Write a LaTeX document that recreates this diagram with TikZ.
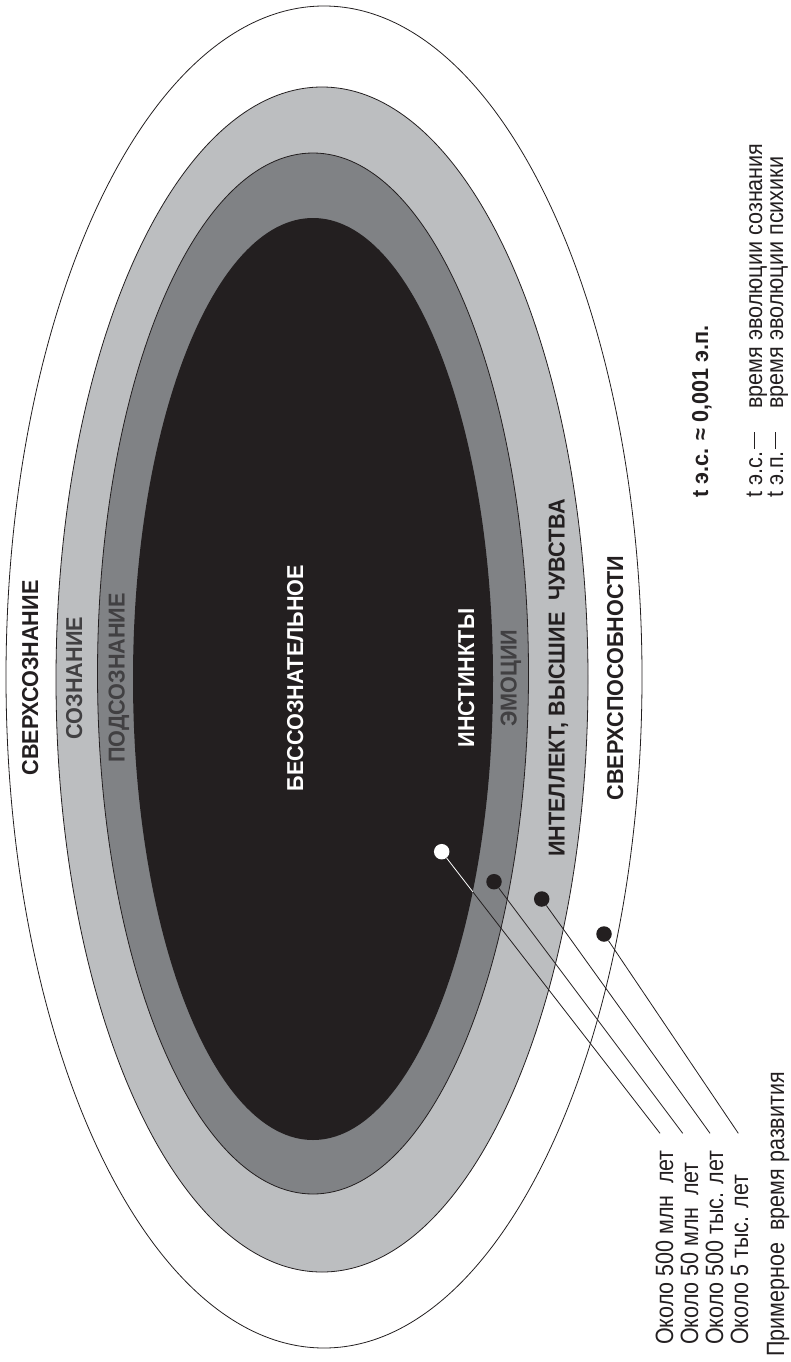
\documentclass[tikz,border=0pt]{standalone}
\usepackage{fontspec}
\setmainfont{Liberation Sans}
\newfontfamily\lblfont[FakeStretch=0.94]{Liberation Sans}
\newfontfamily\txtfont[FakeStretch=0.86]{Liberation Sans}
\newfontfamily\legfont[FakeStretch=0.9]{Liberation Sans}
\definecolor{lgray}{HTML}{BCBEC0}
\definecolor{mgray}{HTML}{808285}
\definecolor{kblack}{HTML}{231F20}
\definecolor{tgray}{HTML}{414042}
\tikzset{
  ring/.style={draw=kblack, line width=0.8pt},
  conn/.style={draw=kblack, line width=0.8pt},
  wdot/.style={circle, fill=white, inner sep=0pt, minimum size=15.5pt},
  bdot/.style={circle, fill=kblack, inner sep=0pt, minimum size=15.5pt},
  lbl/.style={rotate=90, font=\lblfont\bfseries\fontsize{23}{23}\selectfont, text depth=0pt, inner sep=0pt, anchor=center},
  txt/.style={rotate=90, font=\txtfont\fontsize{25}{25}\selectfont, inner sep=0pt, anchor=base west, text=kblack},
  leg/.style={rotate=90, font=\legfont\fontsize{24}{24}\selectfont, inner sep=0pt, anchor=base west, text=kblack},
  ttl/.style={rotate=90, font=\lblfont\bfseries\fontsize{23}{23}\selectfont, inner sep=0pt, anchor=base west, text=kblack}
}
\begin{document}
\begin{tikzpicture}[x=1pt,y=-1pt]
\useasboundingbox (0,0) rectangle (790,1362);
% nested regions
\draw[ring, fill=white] (324,677) ellipse [x radius=318pt, y radius=671pt];
\draw[ring, fill=lgray] (322,679.5) ellipse [x radius=266pt, y radius=592.5pt];
\draw[ring, fill=mgray] (313,673.5) ellipse [x radius=215.5pt, y radius=520.5pt];
\fill[kblack] (313,679) ellipse [x radius=180pt, y radius=461pt];
% labels
\node[lbl, text=kblack] (lsc) at (30,678) {СВЕРХСОЗНАНИЕ};
\node[lbl, text=tgray] (lc) at (74,678) {СОЗНАНИЕ};
\node[lbl, text=tgray] (lpc) at (116.5,678) {ПОДСОЗНАНИЕ};
\node[lbl, text=white] (lbc) at (295,678) {БЕССОЗНАТЕЛЬНОЕ};
\node[lbl, text=white] (lin) at (466,678) {ИНСТИНКТЫ};
\node[lbl, text=tgray] (lem) at (508.5,678) {ЭМОЦИИ};
\node[lbl, text=kblack] (lint) at (556.5,678) {ИНТЕЛЛЕКТ, ВЫСШИЕ\hspace{0.5em}ЧУВСТВА};
\node[lbl, text=kblack] (lsp) at (615,678) {СВЕРХСПОСОБНОСТИ};
% dots and line ends
\node[wdot] (d1) at (441.7,851.7) {};
\node[bdot] (d2) at (494,881.7) {};
\node[bdot] (d3) at (541.7,899) {};
\node[bdot] (d4) at (604,934) {};
\coordinate (e1) at (660,1133.3);
\coordinate (e2) at (682.7,1133.3);
\coordinate (e3) at (710,1133.3);
\coordinate (e4) at (738.3,1133.3);
\draw[conn] (d1) -- (e1);
\draw[conn] (d2) -- (e2);
\draw[conn] (d3) -- (e3);
\draw[conn] (d4) -- (e4);
\begin{scope}
\clip (313,679) ellipse [x radius=180pt, y radius=461pt];
\draw[conn, draw=white] (d1) -- (e1);
\end{scope}
% bottom texts
\node[txt] (t1) at (673,1345) {Около 500 млн\hspace{0.45em}лет};
\node[txt] (t2) at (698,1345) {Около 50 млн\hspace{0.45em}лет};
\node[txt] (t3) at (723,1345) {Около 500 тыс. лет};
\node[txt] (t4) at (748,1345) {Около 5 тыс. лет};
\node[txt] (t5) at (784,1357) {Примерное\hspace{0.5em}время развития};
% right texts
\node[ttl] (r0) at (708,498) {t э.с. ≈ 0,001 э.п.};
\node[leg] (r1) at (762,498) {\makebox[49pt][l]{t э.с.}\rule[7pt]{17pt}{1.3pt}\hspace{23pt}время эволюции сознания};
\node[leg] (r2) at (783,498) {\makebox[49pt][l]{t э.п.}\rule[7pt]{17pt}{1.3pt}\hspace{23pt}время эволюции психики};
\end{tikzpicture}
\end{document}
